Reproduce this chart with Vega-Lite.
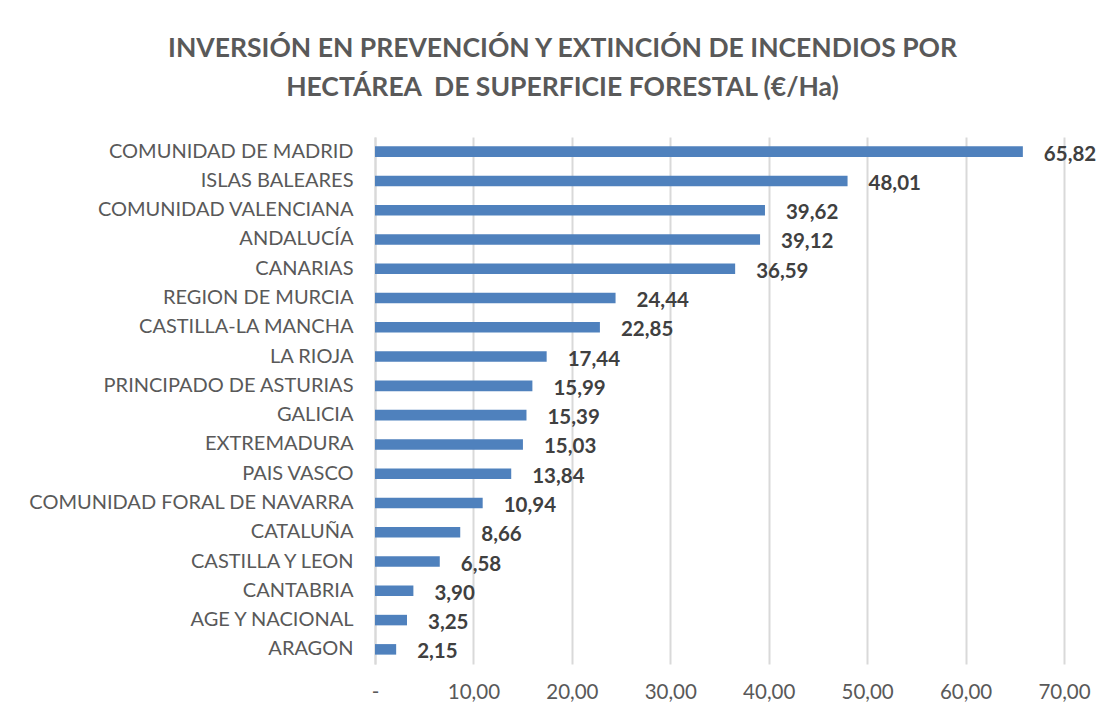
{
  "$schema": "https://vega.github.io/schema/vega-lite/v6.json",
  "width": 689,
  "height": 527,
  "autosize": {"type": "none"},
  "padding": {"left": 375, "top": 137, "right": 55, "bottom": 53},
  "background": "white",
  "config": {
    "locale": {"number": {"decimal": ",", "thousands": ".", "grouping": [3], "currency": ["", " €"]}},
    "view": {"stroke": null},
    "font": "Lato"
  },
  "title": {
    "text": ["INVERSIÓN EN PREVENCIÓN Y EXTINCIÓN DE INCENDIOS POR", "HECTÁREA\u00a0 DE SUPERFICIE FORESTAL (€/Ha)"],
    "font": "Lato",
    "fontSize": 26.5,
    "fontWeight": "bold",
    "color": "#595959",
    "anchor": "middle",
    "dx": -157,
    "lineHeight": 39,
    "offset": 36
  },
  "data": {
    "values": [
      {"region": "COMUNIDAD DE MADRID", "valor": 65.82},
      {"region": "ISLAS BALEARES", "valor": 48.01},
      {"region": "COMUNIDAD VALENCIANA", "valor": 39.62},
      {"region": "ANDALUCÍA", "valor": 39.12},
      {"region": "CANARIAS", "valor": 36.59},
      {"region": "REGION DE MURCIA", "valor": 24.44},
      {"region": "CASTILLA-LA MANCHA", "valor": 22.85},
      {"region": "LA RIOJA", "valor": 17.44},
      {"region": "PRINCIPADO DE ASTURIAS", "valor": 15.99},
      {"region": "GALICIA", "valor": 15.39},
      {"region": "EXTREMADURA", "valor": 15.03},
      {"region": "PAIS VASCO", "valor": 13.84},
      {"region": "COMUNIDAD FORAL DE NAVARRA", "valor": 10.94},
      {"region": "CATALUÑA", "valor": 8.66},
      {"region": "CASTILLA Y LEON", "valor": 6.58},
      {"region": "CANTABRIA", "valor": 3.90},
      {"region": "AGE Y NACIONAL", "valor": 3.25},
      {"region": "ARAGON", "valor": 2.15}
    ]
  },
  "encoding": {
    "y": {
      "field": "region",
      "type": "nominal",
      "sort": null,
      "scale": {"paddingInner": 0.64, "paddingOuter": 0.32},
      "axis": {
        "title": null,
        "ticks": false,
        "domain": true,
        "domainColor": "#d9d9d9",
        "domainWidth": 2,
        "labelFont": "Lato",
        "labelFontSize": 20,
        "labelColor": "#595959",
        "labelPadding": 22,
        "labelLimit": 400
      }
    },
    "x": {
      "field": "valor",
      "type": "quantitative",
      "scale": {"domain": [0, 70], "nice": false},
      "axis": {
        "title": null,
        "values": [0, 10, 20, 30, 40, 50, 60, 70],
        "format": ".2f",
        "labelExpr": "datum.value == 0 ? '-' : datum.label",
        "labelFlush": false,
        "labelOverlap": false,
        "ticks": false,
        "domain": false,
        "grid": true,
        "gridColor": "#d9d9d9",
        "gridWidth": 2,
        "labelFont": "Lato",
        "labelFontSize": 20.5,
        "labelColor": "#595959",
        "labelPadding": 18
      }
    }
  },
  "layer": [
    {"mark": {"type": "bar", "color": "#4f81bd"}},
    {
      "mark": {"type": "text", "align": "left", "baseline": "middle", "dx": 21, "dy": 3, "fontWeight": "bold", "fontSize": 20.5, "color": "#404040", "font": "Lato"},
      "encoding": {"text": {"field": "valor", "type": "quantitative", "format": ".2f"}}
    }
  ]
}
